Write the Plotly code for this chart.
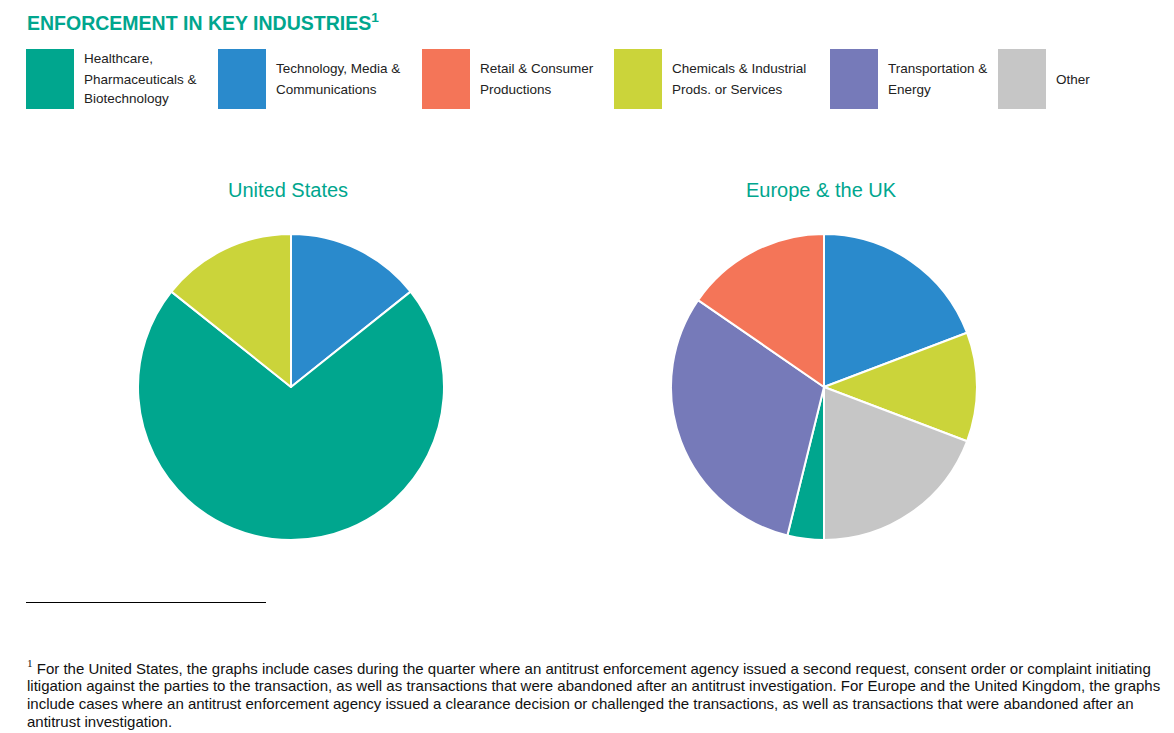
import plotly.graph_objects as go

W, H = 1174, 733
FONT = "Arial, Liberation Sans, sans-serif"
GREEN = "#00A68E"

categories = [
    "Healthcare,<br>Pharmaceuticals &<br>Biotechnology",
    "Technology, Media &<br>Communications",
    "Retail & Consumer<br>Productions",
    "Chemicals & Industrial<br>Prods. or Services",
    "Transportation &<br>Energy",
    "Other",
]
cat_colors = ["#00A68E", "#2A8ACC", "#F47558", "#CBD43A", "#767AB9", "#C6C6C6"]

# slices in clockwise order from 12 o'clock (category indices)
us_order = [1, 0, 3]
us_values = [1, 5, 1]
eu_order = [1, 3, 5, 0, 4, 2]
eu_values = [5, 3, 5, 1, 8, 4]

pie_titles = ["United States", "Europe & the UK"]

footnote_lines = [
    "For the United States, the graphs include cases during the quarter where an antitrust enforcement agency issued a second request, consent order or complaint initiating",
    "litigation against the parties to the transaction, as well as transactions that were abandoned after an antitrust investigation. For Europe and the United Kingdom, the graphs",
    "include cases where an antitrust enforcement agency issued a clearance decision or challenged the transactions, as well as transactions that were abandoned after an",
    "antitrust investigation.",
]

def px_x(x):
    return x / W

def px_y(y):
    return 1 - y / H

fig = go.Figure()

R = 153
centers = [(291, 387), (824, 387)]
for (cx, cy), order, vals in zip(centers, [us_order, eu_order], [us_values, eu_values]):
    fig.add_trace(go.Pie(
        labels=[categories[i].replace("<br>", " ") for i in order],
        values=vals,
        marker=dict(colors=[cat_colors[i] for i in order], line=dict(color="white", width=2)),
        sort=False,
        direction="clockwise",
        rotation=0,
        textinfo="none",
        hoverinfo="label+value",
        showlegend=False,
        domain=dict(x=[px_x(cx - R), px_x(cx + R)], y=[px_y(cy + R), px_y(cy - R)]),
    ))

shapes = []
annotations = []

# title
annotations.append(dict(
    x=px_x(25), y=px_y(22), xref="paper", yref="paper", xanchor="left", yanchor="middle",
    text="<b>ENFORCEMENT IN KEY INDUSTRIES<sup>1</sup></b>", showarrow=False,
    font=dict(family=FONT, size=19.5, color=GREEN),
))

# legend
sq_x = [26, 218, 422, 614, 830, 998]
txt_x = [83, 275, 479, 671, 887, 1055]
for i, cat in enumerate(categories):
    shapes.append(dict(type="rect", xref="paper", yref="paper",
                       x0=px_x(sq_x[i]), x1=px_x(sq_x[i] + 48),
                       y0=px_y(109), y1=px_y(49),
                       fillcolor=cat_colors[i], line=dict(width=0)))
    lines = cat.split("<br>")
    n = len(lines)
    for j, ln in enumerate(lines):
        yc = 79 + (j - (n - 1) / 2) * 20
        annotations.append(dict(
            x=px_x(txt_x[i] - 1), y=px_y(yc), xref="paper", yref="paper",
            xanchor="left", yanchor="middle", text=ln, showarrow=False,
            font=dict(family=FONT, size=13.5, color="#222222"),
        ))

# pie titles
for (cx, cy), t in zip(centers, pie_titles):
    annotations.append(dict(
        x=px_x(cx - 3), y=px_y(190), xref="paper", yref="paper",
        xanchor="center", yanchor="middle", text=t, showarrow=False,
        font=dict(family=FONT, size=20, color=GREEN),
    ))

# footnote rule
shapes.append(dict(type="line", xref="paper", yref="paper",
                   x0=px_x(26), x1=px_x(266), y0=px_y(602.5), y1=px_y(602.5),
                   line=dict(color="black", width=1)))

# footnote text
for k, ln in enumerate(footnote_lines):
    txt = ln
    if k == 0:
        txt = "<span style='font-family:Liberation Serif, Times New Roman, serif; font-size:16px'><sup>1</sup></span> " + ln
    annotations.append(dict(
        x=px_x(25), y=px_y(667 + k * 18.3), xref="paper", yref="paper",
        xanchor="left", yanchor="middle", text=txt, showarrow=False,
        font=dict(family=FONT, size=15, color="#111111"),
    ))

fig.update_layout(
    width=W, height=H,
    margin=dict(l=0, r=0, t=0, b=0),
    paper_bgcolor="white", plot_bgcolor="white",
    shapes=shapes, annotations=annotations,
    showlegend=False,
)

fig.write_html(
    "out.html",
    config={"displayModeBar": False},
    post_script="document.body.style.margin='0';document.body.style.overflow='hidden';",
)
